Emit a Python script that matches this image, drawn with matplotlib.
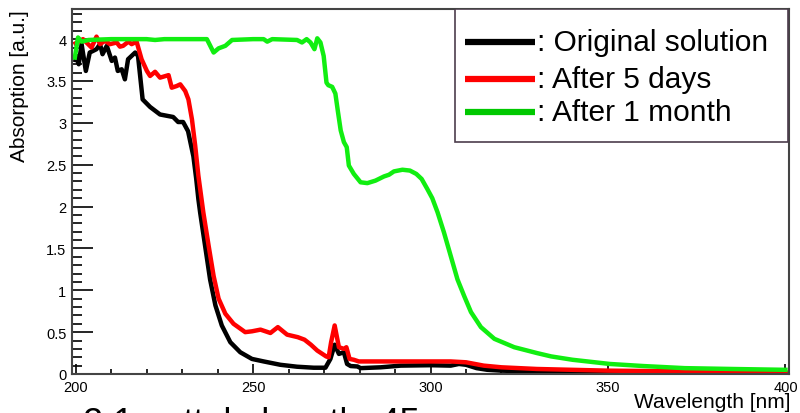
import matplotlib
matplotlib.use("Agg")
import matplotlib.pyplot as plt
from matplotlib.ticker import MultipleLocator

plt.rcParams["font.family"] = ["Liberation Sans", "DejaVu Sans"]

# absorption spectra (wavelength in nm, absorption in a.u.)
wl_orig = [200.0, 200.3, 200.9, 201.7, 202.9, 204.0, 205.9, 206.9, 207.6, 208.8, 210.2, 211.1,
           211.9, 213.0, 213.9, 214.8, 216.8, 217.6, 218.9, 221.0, 223.8, 227.5, 228.9, 230.3,
           231.7, 233.2, 234.0, 234.6, 235.1, 236.5, 237.9, 239.4, 241.2, 243.6, 246.4, 249.7,
           253.0, 257.7, 262.4, 267.1, 270.4, 271.8, 273.0, 274.2, 275.6, 276.5, 277.5, 279.4,
           280.3, 286.0, 291.6, 300.0, 305.7, 308.0, 310.0, 313.0, 316.0, 320.0, 330.0, 350.0,
           375.0, 400.0]
abs_orig = [3.75, 3.80, 3.70, 3.94, 3.62, 3.84, 3.88, 3.94, 3.82, 3.92, 3.74, 3.78,
            3.62, 3.64, 3.52, 3.76, 3.84, 3.80, 3.28, 3.19, 3.10, 3.07, 3.01, 3.01,
            2.90, 2.60, 2.33, 2.09, 1.93, 1.53, 1.13, 0.82, 0.58, 0.38, 0.26, 0.18,
            0.15, 0.11, 0.087, 0.075, 0.075, 0.18, 0.35, 0.24, 0.26, 0.12, 0.095, 0.09,
            0.07, 0.08, 0.10, 0.105, 0.10, 0.12, 0.11, 0.07, 0.05, 0.04, 0.03, 0.02,
            0.015, 0.01]

wl_5d = [200.0, 202.1, 202.6, 204.5, 205.9, 206.9, 208.3, 209.7, 211.6, 212.5, 213.4, 214.9,
         215.8, 217.2, 218.6, 220.1, 221.0, 222.4, 223.8, 226.2, 227.1, 228.5, 229.5, 230.9,
         231.8, 232.8, 233.7, 234.6, 236.0, 237.5, 238.9, 240.3, 242.2, 244.5, 247.8, 249.7,
         252.1, 254.9, 257.0, 259.6, 262.6, 264.5, 266.3, 268.1, 270.6, 271.3, 272.0, 273.0,
         274.2, 275.6, 276.3, 277.2, 278.4, 279.8, 286.0, 300.0, 305.7, 310.0, 315.0, 320.0,
         330.0, 350.0, 375.0, 400.0]
abs_5d = [3.95, 4.00, 3.98, 3.90, 4.03, 3.94, 3.98, 3.94, 3.96, 3.91, 3.92, 3.97,
          3.94, 3.97, 3.76, 3.62, 3.56, 3.61, 3.54, 3.57, 3.42, 3.44, 3.46, 3.38,
          3.28, 3.04, 2.73, 2.37, 1.93, 1.53, 1.17, 0.90, 0.72, 0.60, 0.50, 0.51,
          0.53, 0.49, 0.56, 0.47, 0.44, 0.41, 0.35, 0.28, 0.21, 0.20, 0.38, 0.58,
          0.32, 0.30, 0.32, 0.18, 0.17, 0.15, 0.15, 0.15, 0.15, 0.14, 0.10, 0.08,
          0.06, 0.04, 0.03, 0.02]

wl_1m = [199.8, 200.7, 201.7, 203.6, 210.0, 220.0, 222.4, 225.0, 230.0, 237.0, 238.9, 240.3,
         242.2, 244.1, 250.0, 253.0, 254.0, 255.4, 262.4, 263.8, 265.1, 266.2, 267.3, 268.1,
         269.0, 269.9, 270.7, 271.2, 272.3, 273.2, 273.9, 274.7, 275.6, 276.4, 277.0, 278.4,
         280.3, 282.2, 284.5, 286.9, 288.3, 289.7, 292.1, 294.2, 296.0, 297.5, 299.1, 300.5,
         302.0, 303.8, 305.7, 307.6, 309.5, 311.4, 314.2, 318.0, 323.6, 330.0, 334.0, 340.0,
         350.5, 360.0, 371.6, 385.0, 400.0]
abs_1m = [3.78, 4.02, 3.97, 3.99, 4.00, 4.00, 3.99, 4.00, 4.00, 4.00, 3.84, 3.89,
          3.92, 3.99, 4.00, 4.00, 3.97, 4.00, 3.99, 3.96, 4.00, 3.96, 3.88, 4.01,
          3.96, 3.80, 3.48, 3.45, 3.43, 3.35, 3.14, 2.91, 2.77, 2.71, 2.49, 2.39,
          2.29, 2.28, 2.31, 2.36, 2.38, 2.42, 2.44, 2.43, 2.39, 2.33, 2.21, 2.10,
          1.93, 1.69, 1.41, 1.13, 0.93, 0.74, 0.56, 0.42, 0.32, 0.25, 0.21, 0.17,
          0.12, 0.095, 0.07, 0.06, 0.05]

labels = [": Original solution", ": After 5 days", ": After 1 month"]
line_colors = ["black", "#ff0000", "#11ee11"]
legend_colors = ["black", "#ff0000", "#00c800"]

fig = plt.figure(figsize=(8, 4.14), dpi=100)
ax = fig.add_axes([72 / 800, 39 / 414, 717 / 800, 365 / 414])

for wl, a, c in zip([wl_orig, wl_5d, wl_1m], [abs_orig, abs_5d, abs_1m], line_colors):
    ax.plot(wl, a, color=c, lw=3.2, solid_joinstyle="round")

ax.set_xlim(199, 401)
ax.set_ylim(0, 4.36)

# ROOT-like frame and inward ticks
for s in ax.spines.values():
    s.set_color("#444444")
    s.set_linewidth(1.5)
ax.xaxis.set_major_locator(MultipleLocator(50))
ax.xaxis.set_minor_locator(MultipleLocator(10))
ax.yaxis.set_major_locator(MultipleLocator(0.5))
ax.yaxis.set_minor_locator(MultipleLocator(0.1))
ax.tick_params(axis="both", which="both", direction="in", top=False, right=False,
               labelsize=10.5, color="black", width=1.2)
ax.tick_params(axis="y", which="major", length=15, pad=4)
ax.tick_params(axis="y", which="minor", length=7.5)
ax.tick_params(axis="x", which="major", length=7, pad=4)
ax.tick_params(axis="x", which="minor", length=3.5)
ax.yaxis.set_major_formatter(plt.FuncFormatter(lambda v, p: f"{v:g}"))

fig.text(20 / 800, 1 - 10 / 414, "Absorption [a.u.]", rotation=90,
         ha="center", va="top", fontsize=15)
fig.text(790 / 800, 1 - 403 / 414, "Wavelength [nm]", ha="right", va="center", fontsize=15)

# legend box in the upper right corner
box = plt.Rectangle((0.534, 0.636), 0.4645, 0.364, transform=ax.transAxes,
                    facecolor="white", edgecolor="#4d3d4d", lw=1.2, zorder=5)
ax.add_patch(box)
for i, (lab, c) in enumerate(zip(labels, legend_colors)):
    y = [0.9096, 0.808, 0.718][i]
    ax.plot([0.548, 0.646], [y, y], color=c, lw=4.5, transform=ax.transAxes,
            solid_capstyle="butt", zorder=6)
    ax.text(0.6485, y, lab, transform=ax.transAxes, fontsize=21.5,
            ha="left", va="center", zorder=6)

# caption of the page below, cut by the figure edge
fig.text(83 / 800, 1 - 434 / 414, "2.1   attel.  length  45", fontsize=26, va="baseline")

fig.savefig("out.png", dpi=100)
